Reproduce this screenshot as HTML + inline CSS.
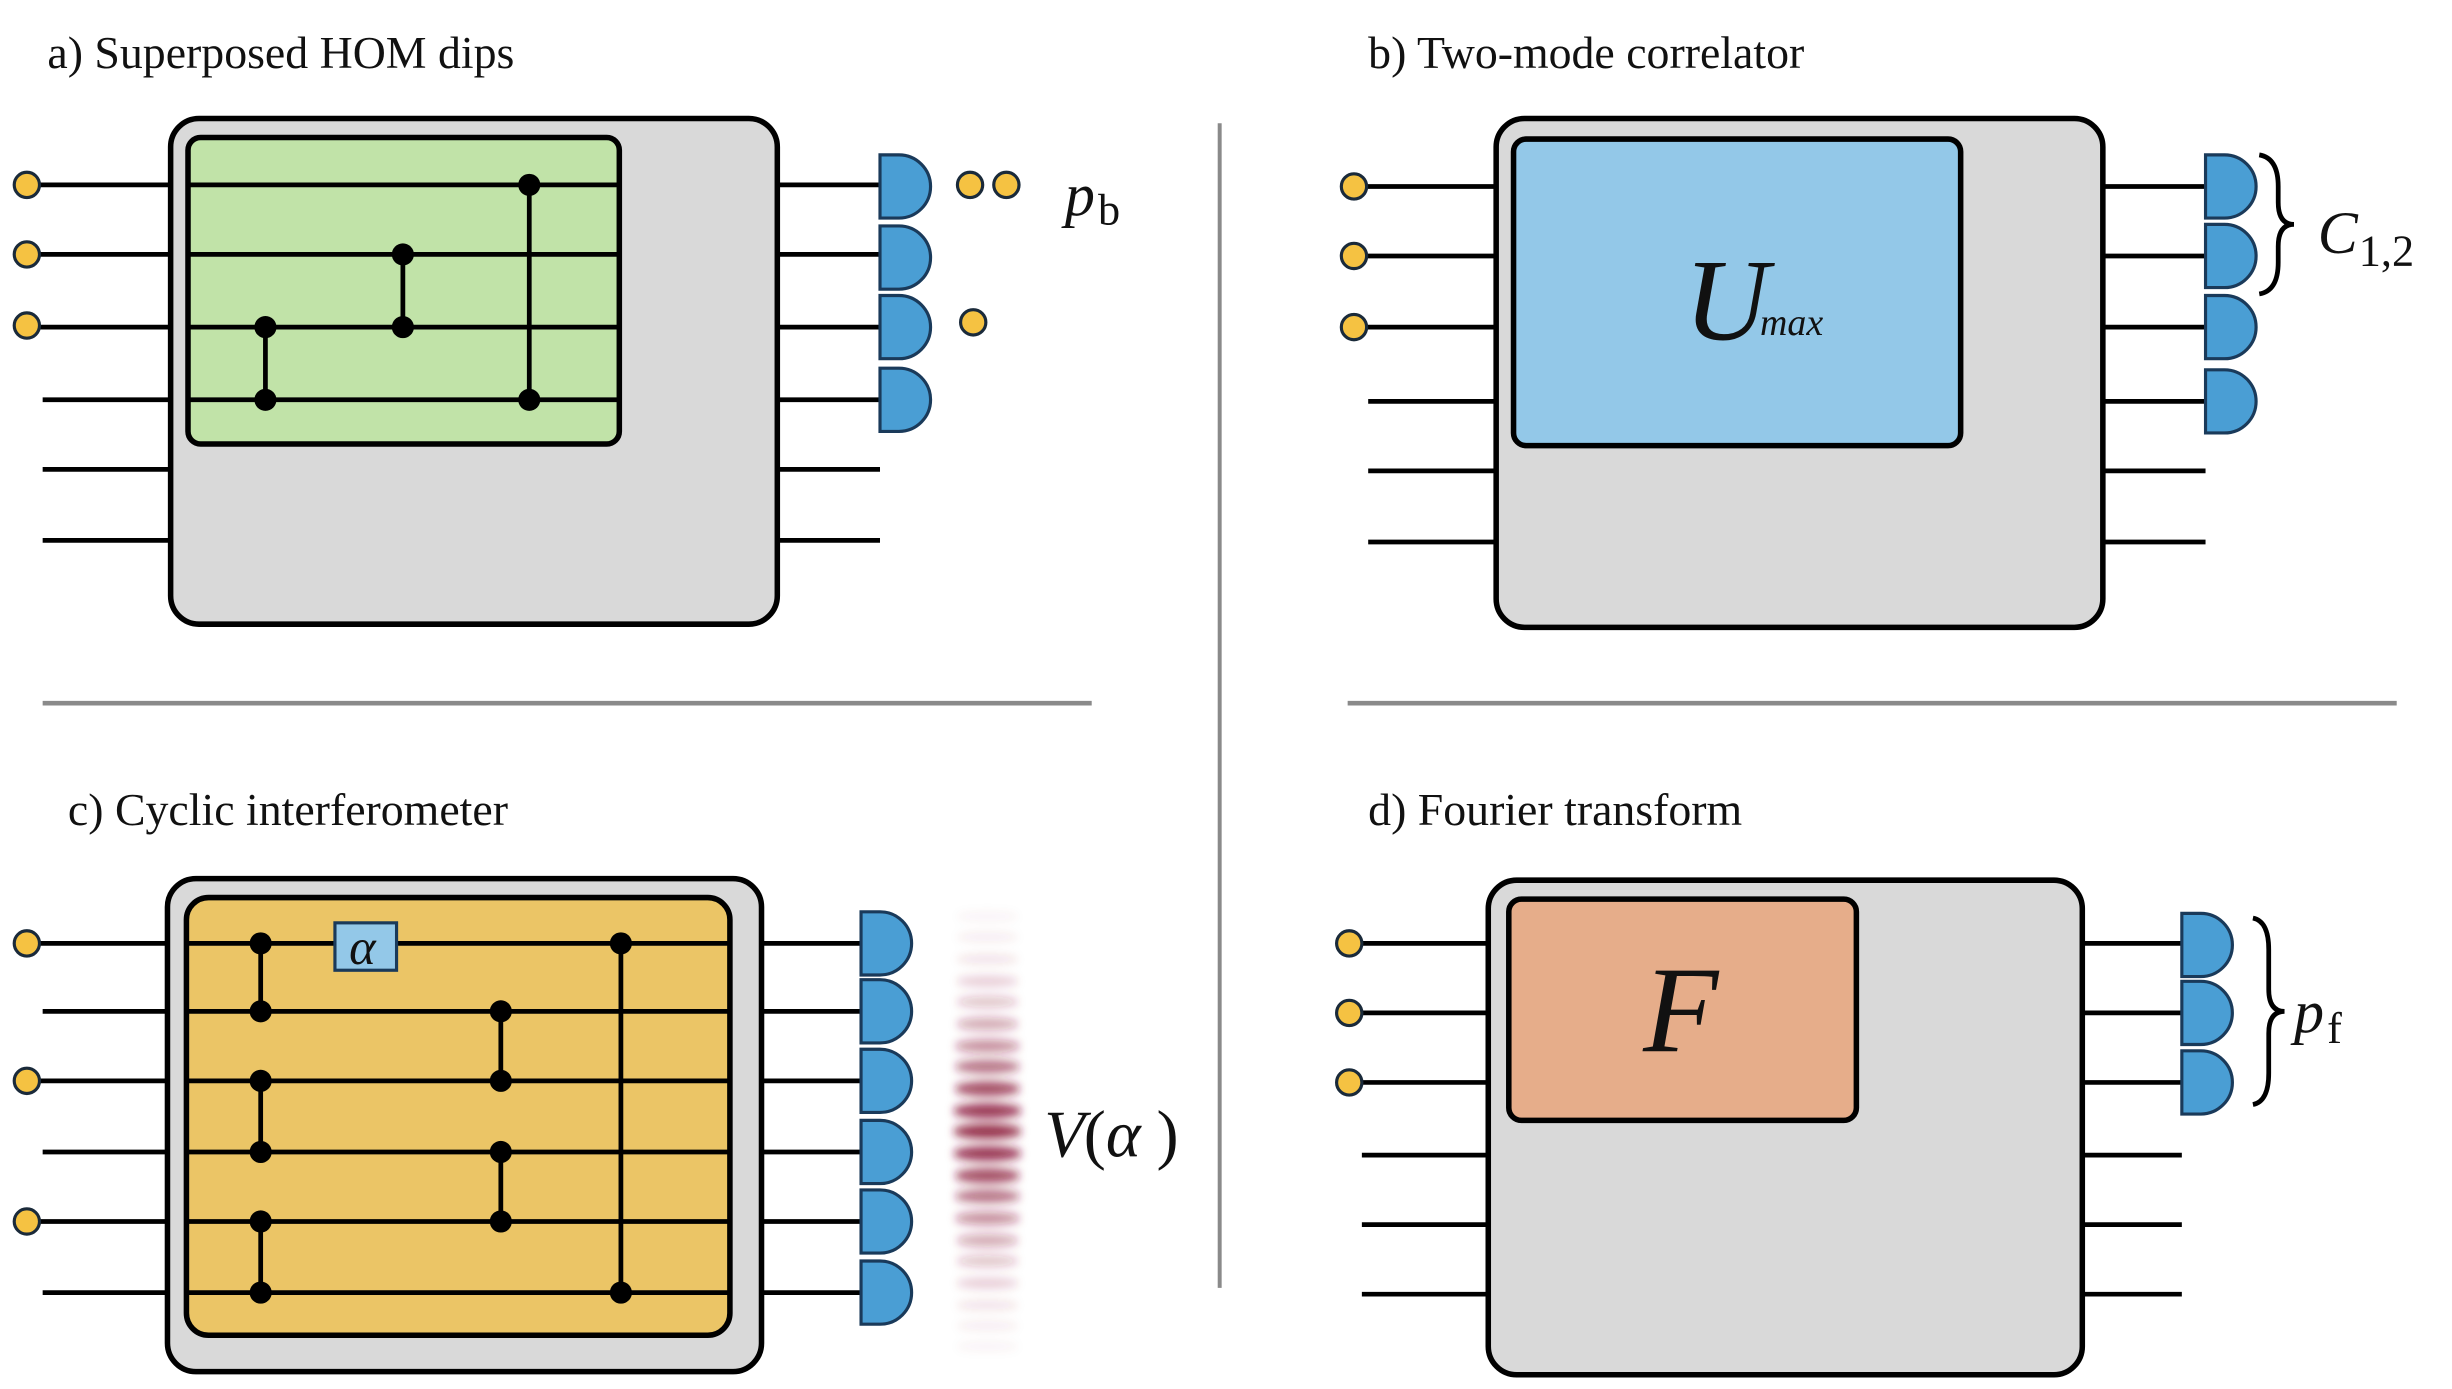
<!DOCTYPE html>
<html><head><meta charset="utf-8"><style>
html,body{margin:0;padding:0;background:#fff;}
svg{display:block;}
text{font-family:"Liberation Serif","DejaVu Serif","Times New Roman",serif;}
.t{font-size:29px;fill:#111;}
.m{font-style:italic;fill:#111;}
</style></head><body>
<svg width="2452" height="1389" viewBox="0 0 1552 879" preserveAspectRatio="none" xmlns="http://www.w3.org/2000/svg">
<defs>
<filter id="bl" x="-50%" y="-50%" width="200%" height="200%"><feGaussianBlur stdDeviation="2.5 3"/></filter>
</defs>
<line x1="772" y1="78" x2="772" y2="815" stroke="#8a8a8a" stroke-width="2.5"/>
<line x1="27" y1="445" x2="691" y2="445" stroke="#8a8a8a" stroke-width="3"/>
<line x1="853" y1="445" x2="1517" y2="445" stroke="#8a8a8a" stroke-width="3"/>

<text class="t" x="30" y="43" font-family="Liberation Serif, DejaVu Serif, serif">a) Superposed HOM dips</text>
<text class="t" x="866" y="43" font-family="Liberation Serif, DejaVu Serif, serif">b) Two-mode correlator</text>
<text class="t" x="43" y="522" font-family="Liberation Serif, DejaVu Serif, serif">c) Cyclic interferometer</text>
<text class="t" x="866" y="522" font-family="Liberation Serif, DejaVu Serif, serif">d) Fourier transform</text>

<!-- Panel a -->
<g stroke="#000" stroke-width="3">
<line x1="17" y1="117" x2="108" y2="117"/><line x1="17" y1="161" x2="108" y2="161"/><line x1="17" y1="207" x2="108" y2="207"/>
<line x1="27" y1="253" x2="108" y2="253"/><line x1="27" y1="297" x2="108" y2="297"/><line x1="27" y1="342" x2="108" y2="342"/>
<line x1="492" y1="117" x2="560" y2="117"/><line x1="492" y1="161" x2="560" y2="161"/><line x1="492" y1="207" x2="560" y2="207"/><line x1="492" y1="253" x2="560" y2="253"/>
<line x1="492" y1="297" x2="557" y2="297"/><line x1="492" y1="342" x2="557" y2="342"/>
</g>
<rect x="108" y="75" width="384" height="320" rx="18" fill="#d9d9d9" stroke="#000" stroke-width="3.5"/>
<rect x="119" y="87" width="273" height="194" rx="8" fill="#c1e3a8" stroke="#000" stroke-width="3.5"/>
<g stroke="#000" stroke-width="3">
<line x1="119" y1="117" x2="392" y2="117"/><line x1="119" y1="161" x2="392" y2="161"/><line x1="119" y1="207" x2="392" y2="207"/><line x1="119" y1="253" x2="392" y2="253"/>
<line x1="168" y1="207" x2="168" y2="253"/><line x1="255" y1="161" x2="255" y2="207"/><line x1="335" y1="117" x2="335" y2="253"/>
</g>
<g fill="#000"><circle cx="168" cy="207" r="7"/><circle cx="168" cy="253" r="7"/><circle cx="255" cy="161" r="7"/><circle cx="255" cy="207" r="7"/><circle cx="335" cy="117" r="7"/><circle cx="335" cy="253" r="7"/></g>
<g fill="#f5c242" stroke="#1a2a3a" stroke-width="2">
<circle cx="17" cy="117" r="8"/><circle cx="17" cy="161" r="8"/><circle cx="17" cy="206" r="8"/>
<circle cx="614" cy="117" r="8"/><circle cx="637" cy="117" r="8"/><circle cx="616" cy="204" r="8"/>
</g>
<g fill="#4a9ed4" stroke="#1a3a5a" stroke-width="2">
<path d="M557 98 h12 a20 20 0 0 1 0 40 h-12 z"/><path d="M557 143 h12 a20 20 0 0 1 0 40 h-12 z"/><path d="M557 187 h12 a20 20 0 0 1 0 40 h-12 z"/><path d="M557 233 h12 a20 20 0 0 1 0 40 h-12 z"/>
</g>
<text class="m" x="674" y="136" font-size="38" font-family="Liberation Serif, DejaVu Serif, serif">p</text><text x="695" y="142" font-size="28" fill="#111" font-family="Liberation Serif, DejaVu Serif, serif">b</text>

<!-- Panel b -->
<g stroke="#000" stroke-width="3">
<line x1="857" y1="118" x2="947" y2="118"/><line x1="857" y1="162" x2="947" y2="162"/><line x1="857" y1="207" x2="947" y2="207"/>
<line x1="866" y1="254" x2="947" y2="254"/><line x1="866" y1="298" x2="947" y2="298"/><line x1="866" y1="343" x2="947" y2="343"/>
<line x1="1331" y1="118" x2="1398" y2="118"/><line x1="1331" y1="162" x2="1398" y2="162"/><line x1="1331" y1="207" x2="1398" y2="207"/><line x1="1331" y1="254" x2="1398" y2="254"/>
<line x1="1331" y1="298" x2="1396" y2="298"/><line x1="1331" y1="343" x2="1396" y2="343"/>
</g>
<rect x="947" y="75" width="384" height="322" rx="18" fill="#d9d9d9" stroke="#000" stroke-width="3.5"/>
<rect x="958" y="88" width="283" height="194" rx="8" fill="#93c8e8" stroke="#000" stroke-width="3.5"/>
<text class="m" x="1066" y="215" font-size="74" font-family="Liberation Serif, DejaVu Serif, serif">U</text>
<text class="m" x="1114" y="212" font-size="24" font-family="Liberation Serif, DejaVu Serif, serif">max</text>
<g fill="#f5c242" stroke="#1a2a3a" stroke-width="2"><circle cx="857" cy="118" r="8"/><circle cx="857" cy="162" r="8"/><circle cx="857" cy="207" r="8"/></g>
<g fill="#4a9ed4" stroke="#1a3a5a" stroke-width="2">
<path d="M1396 98 h12 a20 20 0 0 1 0 40 h-12 z"/><path d="M1396 142 h12 a20 20 0 0 1 0 40 h-12 z"/><path d="M1396 187 h12 a20 20 0 0 1 0 40 h-12 z"/><path d="M1396 234 h12 a20 20 0 0 1 0 40 h-12 z"/>
</g>
<path d="M1430 98 q12 2 12 20 v10 q0 14 10 14 q-10 0 -10 14 v10 q0 18 -12 20" fill="none" stroke="#000" stroke-width="3"/>
<text class="m" x="1467" y="160" font-size="38" font-family="Liberation Serif, DejaVu Serif, serif">C</text><text x="1493" y="168" font-size="28" fill="#111" font-family="Liberation Serif, DejaVu Serif, serif">1,2</text>

<!-- Panel c -->
<g stroke="#000" stroke-width="3">
<line x1="17" y1="597" x2="106" y2="597"/><line x1="27" y1="640" x2="106" y2="640"/><line x1="17" y1="684" x2="106" y2="684"/>
<line x1="27" y1="729" x2="106" y2="729"/><line x1="17" y1="773" x2="106" y2="773"/><line x1="27" y1="818" x2="106" y2="818"/>
<line x1="482" y1="597" x2="547" y2="597"/><line x1="482" y1="640" x2="547" y2="640"/><line x1="482" y1="684" x2="547" y2="684"/>
<line x1="482" y1="729" x2="547" y2="729"/><line x1="482" y1="773" x2="547" y2="773"/><line x1="482" y1="818" x2="547" y2="818"/>
</g>
<rect x="106" y="556" width="376" height="312" rx="18" fill="#d9d9d9" stroke="#000" stroke-width="3.5"/>
<rect x="118" y="568" width="344" height="277" rx="14" fill="#ebc566" stroke="#000" stroke-width="3.5"/>
<g stroke="#000" stroke-width="3">
<line x1="118" y1="597" x2="462" y2="597"/><line x1="118" y1="640" x2="462" y2="640"/><line x1="118" y1="684" x2="462" y2="684"/>
<line x1="118" y1="729" x2="462" y2="729"/><line x1="118" y1="773" x2="462" y2="773"/><line x1="118" y1="818" x2="462" y2="818"/>
<line x1="165" y1="597" x2="165" y2="640"/><line x1="165" y1="684" x2="165" y2="729"/><line x1="165" y1="773" x2="165" y2="818"/>
<line x1="317" y1="640" x2="317" y2="684"/><line x1="317" y1="729" x2="317" y2="773"/><line x1="393" y1="597" x2="393" y2="818"/>
</g>
<g fill="#000">
<circle cx="165" cy="597" r="7"/><circle cx="165" cy="640" r="7"/><circle cx="165" cy="684" r="7"/><circle cx="165" cy="729" r="7"/><circle cx="165" cy="773" r="7"/><circle cx="165" cy="818" r="7"/>
<circle cx="317" cy="640" r="7"/><circle cx="317" cy="684" r="7"/><circle cx="317" cy="729" r="7"/><circle cx="317" cy="773" r="7"/>
<circle cx="393" cy="597" r="7"/><circle cx="393" cy="818" r="7"/>
</g>
<rect x="212" y="584" width="39" height="30" fill="#93c8e8" stroke="#1a3a5a" stroke-width="2"/>
<text class="m" x="221" y="610" font-size="32" font-family="Liberation Serif, DejaVu Serif, serif">α</text>
<g fill="#f5c242" stroke="#1a2a3a" stroke-width="2"><circle cx="17" cy="597" r="8"/><circle cx="17" cy="684" r="8"/><circle cx="17" cy="773" r="8"/></g>
<g fill="#4a9ed4" stroke="#1a3a5a" stroke-width="2">
<path d="M545 577 h12 a20 20 0 0 1 0 40 h-12 z"/><path d="M545 620 h12 a20 20 0 0 1 0 40 h-12 z"/><path d="M545 664 h12 a20 20 0 0 1 0 40 h-12 z"/>
<path d="M545 709 h12 a20 20 0 0 1 0 40 h-12 z"/><path d="M545 753 h12 a20 20 0 0 1 0 40 h-12 z"/><path d="M545 798 h12 a20 20 0 0 1 0 40 h-12 z"/>
</g>
<g fill="#8b1a3a" filter="url(#bl)">
<ellipse cx="625" cy="580" rx="20" ry="3" opacity="0.05"/>
<ellipse cx="625" cy="593" rx="20" ry="3" opacity="0.08"/>
<ellipse cx="625" cy="607" rx="20" ry="3" opacity="0.12"/>
<ellipse cx="625" cy="621" rx="20" ry="3.5" opacity="0.2"/>
<ellipse cx="625" cy="634" rx="20" ry="3.5" opacity="0.28"/>
<ellipse cx="625" cy="648" rx="20" ry="4" opacity="0.38"/>
<ellipse cx="625" cy="662" rx="21" ry="4" opacity="0.5"/>
<ellipse cx="625" cy="675" rx="21" ry="4" opacity="0.65"/>
<ellipse cx="625" cy="689" rx="21" ry="4.5" opacity="0.8"/>
<ellipse cx="625" cy="703" rx="22" ry="4.5" opacity="0.9"/>
<ellipse cx="625" cy="716" rx="22" ry="4.5" opacity="0.95"/>
<ellipse cx="625" cy="730" rx="22" ry="4.5" opacity="0.9"/>
<ellipse cx="625" cy="744" rx="21" ry="4.5" opacity="0.8"/>
<ellipse cx="625" cy="757" rx="21" ry="4" opacity="0.65"/>
<ellipse cx="625" cy="771" rx="21" ry="4" opacity="0.5"/>
<ellipse cx="625" cy="785" rx="20" ry="4" opacity="0.38"/>
<ellipse cx="625" cy="798" rx="20" ry="3.5" opacity="0.28"/>
<ellipse cx="625" cy="812" rx="20" ry="3.5" opacity="0.2"/>
<ellipse cx="625" cy="826" rx="20" ry="3" opacity="0.12"/>
<ellipse cx="625" cy="839" rx="20" ry="3" opacity="0.08"/>
<ellipse cx="625" cy="852" rx="20" ry="3" opacity="0.05"/>
</g>
<text class="m" x="661" y="732" font-size="42" font-family="Liberation Serif, DejaVu Serif, serif">V</text>
<text x="686" y="732" font-size="42" fill="#111" font-family="Liberation Serif, DejaVu Serif, serif">(</text>
<text class="m" x="700" y="732" font-size="42" font-family="Liberation Serif, DejaVu Serif, serif">α</text>
<text x="732" y="732" font-size="42" fill="#111" font-family="Liberation Serif, DejaVu Serif, serif">)</text>

<!-- Panel d -->
<g stroke="#000" stroke-width="3">
<line x1="854" y1="597" x2="942" y2="597"/><line x1="854" y1="641" x2="942" y2="641"/><line x1="854" y1="685" x2="942" y2="685"/>
<line x1="862" y1="731" x2="942" y2="731"/><line x1="862" y1="775" x2="942" y2="775"/><line x1="862" y1="819" x2="942" y2="819"/>
<line x1="1318" y1="597" x2="1383" y2="597"/><line x1="1318" y1="641" x2="1383" y2="641"/><line x1="1318" y1="685" x2="1383" y2="685"/>
<line x1="1318" y1="731" x2="1381" y2="731"/><line x1="1318" y1="775" x2="1381" y2="775"/><line x1="1318" y1="819" x2="1381" y2="819"/>
</g>
<rect x="942" y="557" width="376" height="313" rx="18" fill="#d9d9d9" stroke="#000" stroke-width="3.5"/>
<rect x="955" y="569" width="220" height="140" rx="8" fill="#e6ad8a" stroke="#000" stroke-width="3.5"/>
<text class="m" x="1040" y="665" font-size="78" font-family="Liberation Serif, DejaVu Serif, serif">F</text>
<g fill="#f5c242" stroke="#1a2a3a" stroke-width="2"><circle cx="854" cy="597" r="8"/><circle cx="854" cy="641" r="8"/><circle cx="854" cy="685" r="8"/></g>
<g fill="#4a9ed4" stroke="#1a3a5a" stroke-width="2">
<path d="M1381 578 h12 a20 20 0 0 1 0 40 h-12 z"/><path d="M1381 621 h12 a20 20 0 0 1 0 40 h-12 z"/><path d="M1381 665 h12 a20 20 0 0 1 0 40 h-12 z"/>
</g>
<path d="M1426 581 q10 2 10 20 v25 q0 14 10 14 q-10 0 -10 14 v25 q0 18 -10 20" fill="none" stroke="#000" stroke-width="3"/>
<text class="m" x="1452" y="653" font-size="38" font-family="Liberation Serif, DejaVu Serif, serif">p</text><text x="1473" y="660" font-size="28" fill="#111" font-family="Liberation Serif, DejaVu Serif, serif">f</text>
</svg>
</body></html>
